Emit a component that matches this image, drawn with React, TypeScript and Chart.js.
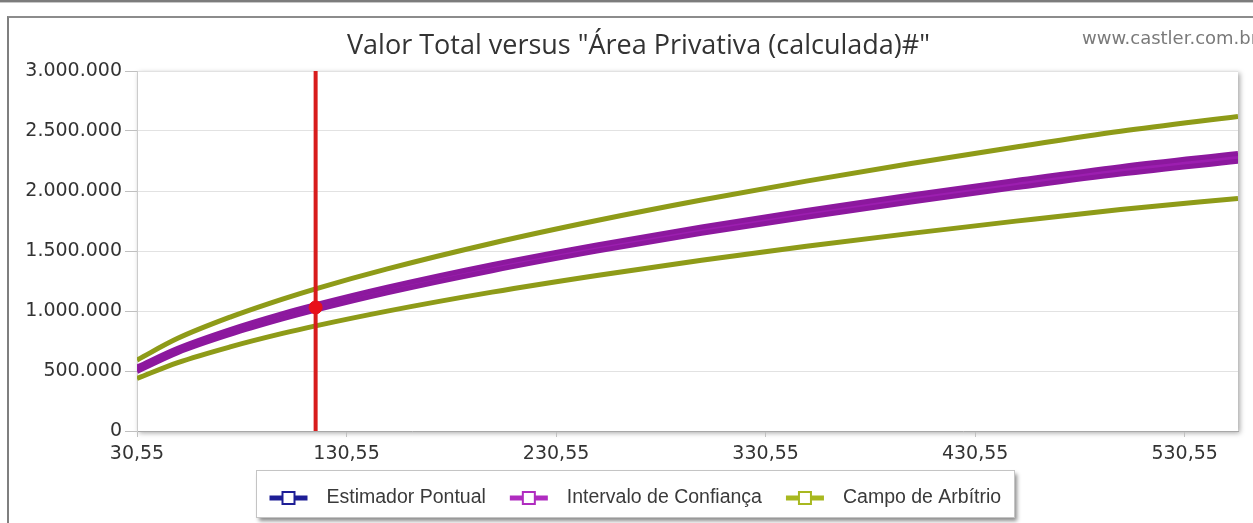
import React, { useEffect, useRef } from "react";
import { Chart, registerables } from "chart.js";

Chart.register(...registerables);

// ---- data ----
const areaValues = [30.55, 50, 75, 100, 115.8, 150, 200, 250, 300, 350, 400, 450, 500, 556];
const estimadorPontual = [515000, 671000, 825000, 956000, 1030000, 1175000, 1361000, 1525000, 1674000, 1810000, 1938000, 2058000, 2172000, 2280000];
const intervaloSuperior = [533000, 689000, 845000, 978000, 1052000, 1198000, 1386000, 1551000, 1701000, 1838000, 1967000, 2088000, 2203000, 2312000];
const intervaloInferior = [497000, 653000, 805000, 934000, 1008000, 1152000, 1336000, 1499000, 1647000, 1782000, 1909000, 2028000, 2141000, 2248000];
const campoSuperior = [592000, 772000, 949000, 1099000, 1185000, 1351000, 1565000, 1754000, 1925000, 2082000, 2229000, 2367000, 2498000, 2622000];
const campoInferior = [438000, 570000, 701000, 813000, 876000, 999000, 1157000, 1296000, 1423000, 1539000, 1647000, 1749000, 1846000, 1938000];

const areaSelecionada = 115.8;
const valorSelecionado = 1030000;

const xTicks = [30.55, 130.55, 230.55, 330.55, 430.55, 530.55];
const xMin = 30.55;
const xMax = 556;
const yMin = 0;
const yMax = 3000000;
const yStep = 500000;

const titleText = 'Valor Total versus "Área Privativa (calculada)#"';
const watermarkText = "www.castler.com.br";
const legendLabels = ["Estimador Pontual", "Intervalo de Confiança", "Campo de Arbítrio"];

// ---- styles ----
const BLUE = "#1e1e96";
const PURPLE = "#8c189e";
const PURPLE_FILL = "#9c1eb0";
const GREEN = "#8e9b18";
const RED = "#d81c1c";
const legendColors = [BLUE, "#b02cc0", "#a8b820"];

const pts = (ys: number[]) => areaValues.map((x, i) => ({ x, y: ys[i] }));

const fmtThousands = (v: number) =>
  String(Math.round(v)).replace(/\B(?=(\d{3})+(?!\d))/g, ".");

const decorPlugin = {
  id: "decor",
  beforeDraw(chart: any) {
    const { ctx, chartArea } = chart;
    ctx.save();
    ctx.shadowColor = "rgba(0,0,0,0.35)";
    ctx.shadowBlur = 5;
    ctx.shadowOffsetX = 2;
    ctx.shadowOffsetY = 2;
    ctx.fillStyle = "#ffffff";
    ctx.fillRect(chartArea.left, chartArea.top, chartArea.right - chartArea.left, chartArea.bottom - chartArea.top);
    ctx.restore();
  },
  afterDraw(chart: any) {
    const { ctx } = chart;
    ctx.save();
    // title
    ctx.font = '27px "Open Sans"';
    ctx.fillStyle = "#333333";
    ctx.textAlign = "center";
    ctx.textBaseline = "middle";
    ctx.fillText(titleText, 629.5, 28);
    // watermark
    ctx.font = '18px "DejaVu Sans"';
    ctx.fillStyle = "#7a7a7a";
    ctx.textAlign = "left";
    ctx.fillText(watermarkText, 1073, 21);

    // legend
    ctx.font = '19.5px "Liberation Sans"';
    const symW = 38;
    const gapSymText = 19;
    const gapItem = 24;
    const padX = 13;
    const widths = legendLabels.map((t) => ctx.measureText(t).width);
    const content = widths.reduce((s, w) => s + symW + gapSymText + w, 0) + gapItem * (legendLabels.length - 1);
    const boxW = Math.round(content + padX * 2);
    const boxH = 47;
    const cx = 625.5;
    const bx = Math.round(cx - boxW / 2) + 0.5;
    const by = 452.5;
    ctx.save();
    ctx.shadowColor = "rgba(0,0,0,0.45)";
    ctx.shadowBlur = 4;
    ctx.shadowOffsetX = 2;
    ctx.shadowOffsetY = 3;
    ctx.fillStyle = "#ffffff";
    ctx.fillRect(bx, by, boxW, boxH);
    ctx.restore();
    ctx.strokeStyle = "#c4c4c4";
    ctx.lineWidth = 1;
    ctx.strokeRect(bx, by, boxW, boxH);
    let x = bx + padX;
    const cy = 480;
    legendLabels.forEach((label, i) => {
      const c = legendColors[i];
      ctx.strokeStyle = c;
      ctx.lineWidth = 5;
      ctx.beginPath();
      ctx.moveTo(x, cy);
      ctx.lineTo(x + symW, cy);
      ctx.stroke();
      ctx.fillStyle = "#ffffff";
      ctx.fillRect(x + symW / 2 - 6, cy - 6, 12, 12);
      ctx.lineWidth = 2;
      ctx.strokeRect(x + symW / 2 - 6, cy - 6, 12, 12);
      x += symW + gapSymText;
      ctx.fillStyle = "#3a3a3a";
      ctx.textAlign = "left";
      ctx.textBaseline = "middle";
      ctx.fillText(label, x, cy);
      x += widths[i] + gapItem;
    });
    ctx.restore();
  },
};

function ChartView() {
  const ref = useRef<HTMLCanvasElement | null>(null);
  useEffect(() => {
    if (!ref.current) return;
    const chart = new Chart(ref.current, {
      type: "line",
      data: {
        datasets: [
          {
            label: "ponto",
            data: [{ x: areaSelecionada, y: valorSelecionado }],
            showLine: false,
            pointRadius: 6.5,
            pointBackgroundColor: "#e8101a",
            pointBorderColor: "#e8101a",
            order: 0,
          },
          {
            label: "linha",
            data: [
              { x: areaSelecionada, y: yMin },
              { x: areaSelecionada, y: yMax },
            ],
            borderColor: RED,
            borderWidth: 4,
            pointRadius: 0,
            order: 1,
          },
          {
            label: legendLabels[1] + " sup",
            data: pts(intervaloSuperior),
            borderColor: PURPLE,
            borderWidth: 5,
            pointRadius: 0,
            cubicInterpolationMode: "monotone",
            fill: false,
            order: 2,
          },
          {
            label: legendLabels[1] + " inf",
            data: pts(intervaloInferior),
            borderColor: PURPLE,
            backgroundColor: PURPLE_FILL,
            borderWidth: 5,
            pointRadius: 0,
            cubicInterpolationMode: "monotone",
            fill: "-1",
            order: 3,
          },
          {
            label: legendLabels[0],
            data: pts(estimadorPontual),
            borderColor: BLUE,
            borderWidth: 2,
            pointRadius: 0,
            cubicInterpolationMode: "monotone",
            order: 4,
          },
          {
            label: legendLabels[2] + " sup",
            data: pts(campoSuperior),
            borderColor: GREEN,
            borderWidth: 5,
            pointRadius: 0,
            cubicInterpolationMode: "monotone",
            order: 5,
          },
          {
            label: legendLabels[2] + " inf",
            data: pts(campoInferior),
            borderColor: GREEN,
            borderWidth: 5,
            pointRadius: 0,
            cubicInterpolationMode: "monotone",
            order: 6,
          },
        ],
      },
      options: {
        responsive: false,
        animation: false,
        events: [],
        layout: { padding: { left: 0, right: 15, top: 53, bottom: 0 } },
        plugins: {
          legend: { display: false },
          title: { display: false },
          tooltip: { enabled: false },
        },
        scales: {
          x: {
            type: "linear",
            min: xMin,
            max: xMax,
            afterBuildTicks: (scale: any) => {
              scale.ticks = xTicks.map((v) => ({ value: v }));
            },
            afterFit: (scale: any) => {
              scale.height = 92;
            },
            grid: {
              drawOnChartArea: false,
              drawTicks: true,
              tickLength: 6,
              tickColor: "#c0c0c0",
            },
            border: { color: "#a8a8a8", width: 1 },
            ticks: {
              autoSkip: false,
              maxRotation: 0,
              padding: 6,
              color: "#333333",
              font: { family: "DejaVu Sans", size: 19 },
              callback: (v: any) => Number(v).toFixed(2).replace(".", ","),
            },
          },
          y: {
            type: "linear",
            min: yMin,
            max: yMax,
            afterFit: (scale: any) => {
              scale.width = 128;
            },
            grid: {
              color: "#e2e2e2",
              tickColor: "#c0c0c0",
              tickLength: 12,
            },
            border: { color: "#cccccc", width: 1 },
            ticks: {
              stepSize: yStep,
              padding: 3,
              color: "#333333",
              font: { family: "DejaVu Sans", size: 19 },
              callback: (v: any) => fmtThousands(Number(v)),
            },
          },
        },
      },
      plugins: [decorPlugin],
    } as any);
    return () => chart.destroy();
  }, []);
  return <canvas ref={ref} width={1244} height={505} style={{ display: "block", width: 1244, height: 505 }} />;
}

export default function App() {
  return (
    <div style={{ position: "fixed", left: 0, top: 0, width: 1253, height: 523, background: "#ffffff", overflow: "hidden" }}>
      <div style={{ position: "absolute", left: 0, top: 0, width: 1253, height: 2, background: "#7c7c7c" }} />
      <div style={{ position: "absolute", left: 0, top: 2, width: 1253, height: 1, background: "#c8c8c8" }} />
      <div
        style={{
          position: "absolute",
          left: 7,
          top: 16,
          width: 1300,
          height: 600,
          borderLeft: "2px solid #7f7f7f",
          borderTop: "2px solid #8c8c8c",
          background: "#ffffff",
        }}
      >
        <ChartView />
      </div>
    </div>
  );
}
